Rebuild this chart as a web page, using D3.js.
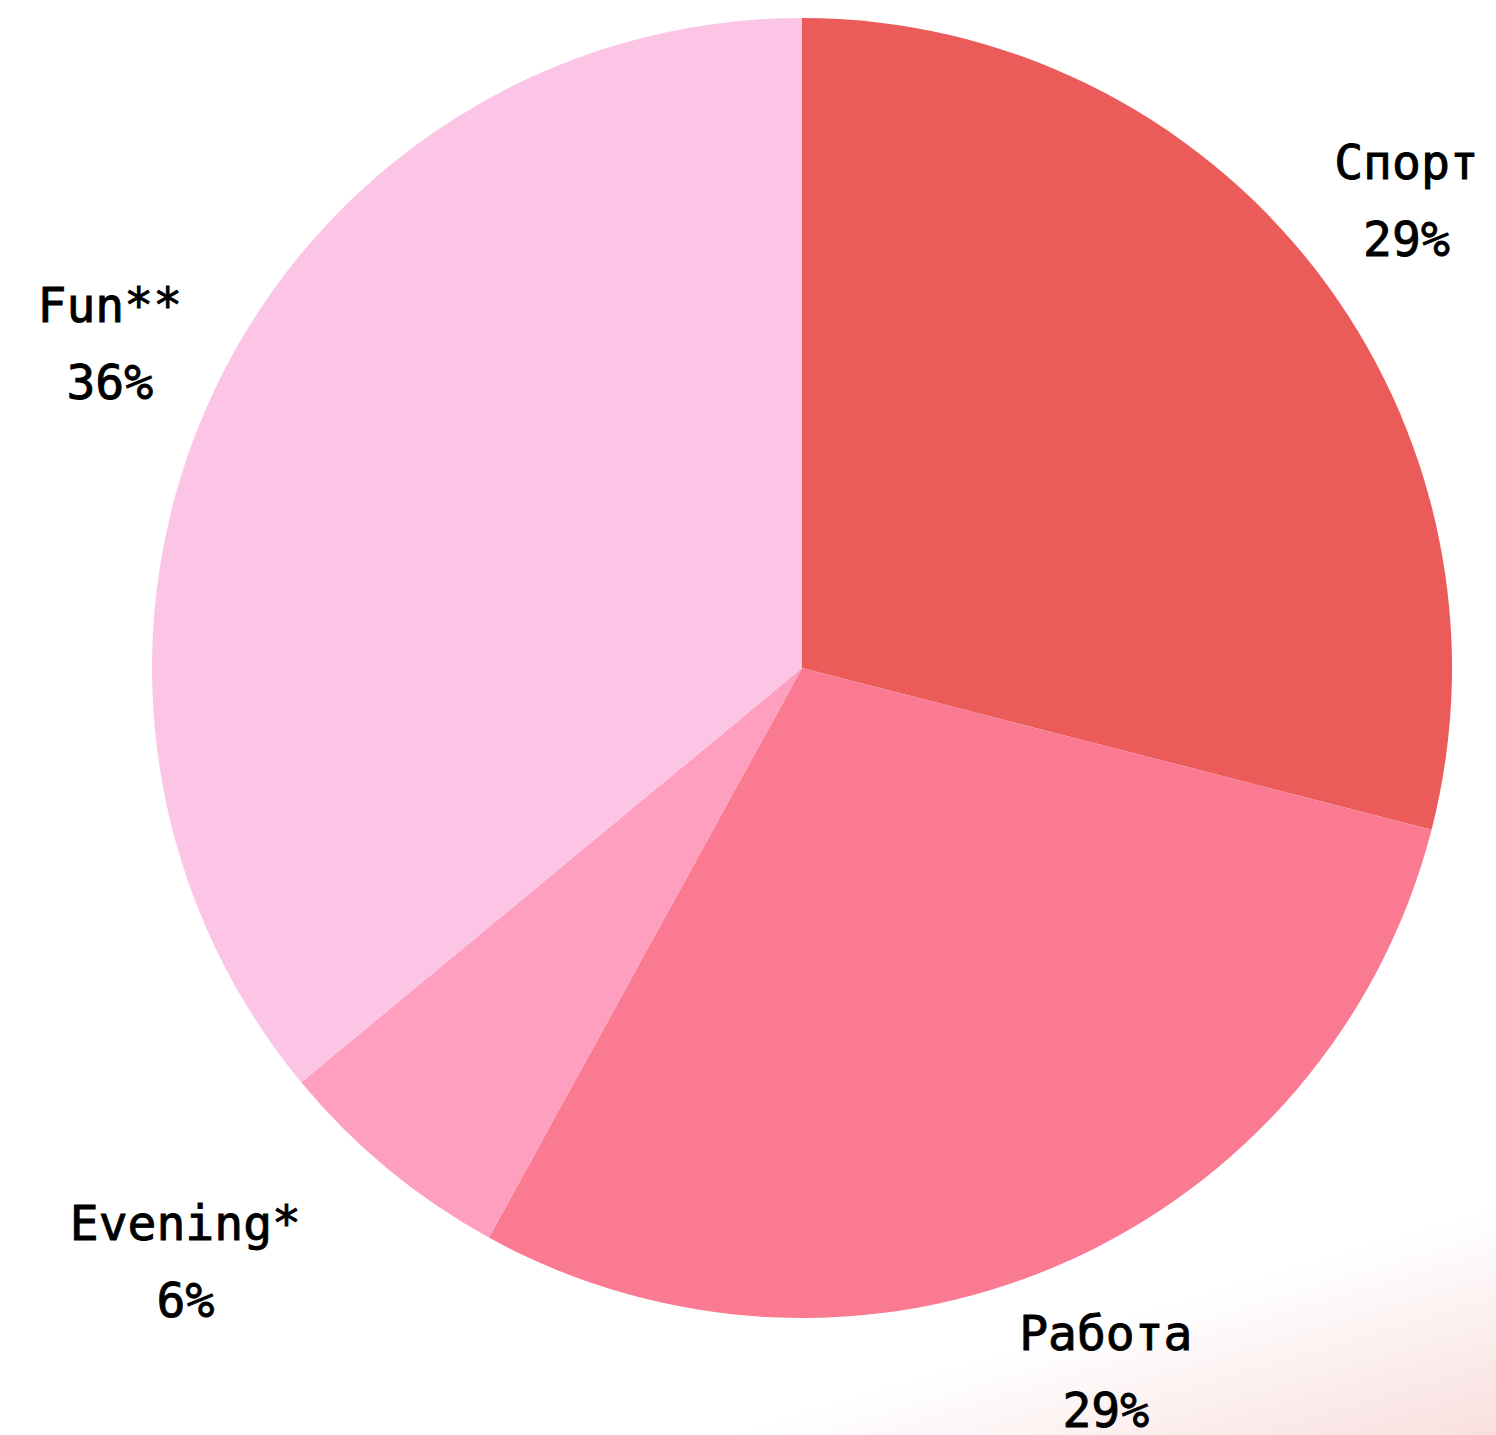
<!DOCTYPE html>
<html>
<head>
<meta charset="utf-8">
<script src="https://cdn.jsdelivr.net/npm/d3@7/dist/d3.min.js"></script>
<style>
  html, body { margin: 0; padding: 0; background: #fff; }
  svg { display: block; }
</style>
</head>
<body>
<div id="chart"></div>
<script>
// slices, clockwise from 12 o'clock
const categories = ['Спорт', 'Работа', 'Evening*', 'Fun**'];
const shares = [29, 29, 6, 36];
const colors = ['#eb5b59', '#f97a91', '#fe9fc0', '#fdc5e5'];

const width = 1496, height = 1435;
const cx = 802, cy = 668, radius = 650, labelRadius = 765;

const svg = d3.select('#chart').append('svg')
  .attr('width', width)
  .attr('height', height);

// soft pink wash in the bottom right corner
const defs = svg.append('defs');
const grad = defs.append('linearGradient')
  .attr('id', 'wash')
  .attr('gradientUnits', 'userSpaceOnUse')
  .attr('x1', 1050).attr('y1', 1300)
  .attr('x2', 1180).attr('y2', 1740);
grad.append('stop').attr('offset', '0%').attr('stop-color', '#ffffff');
grad.append('stop').attr('offset', '8%').attr('stop-color', '#ffffff');
grad.append('stop').attr('offset', '56%').attr('stop-color', '#f9dfdf');
grad.append('stop').attr('offset', '100%').attr('stop-color', '#f6d2d2');

svg.append('rect')
  .attr('width', width).attr('height', height)
  .attr('fill', 'url(#wash)');

const slices = categories.map((c, i) => ({ name: c, value: shares[i], color: colors[i] }));

const pie = d3.pie().value(d => d.value).sort(null);
const arc = d3.arc().innerRadius(0).outerRadius(radius);
const labelArc = d3.arc().innerRadius(labelRadius).outerRadius(labelRadius);

const g = svg.append('g').attr('transform', `translate(${cx},${cy})`);

const arcs = pie(slices);

g.selectAll('path.slice')
  .data(arcs)
  .enter()
  .append('path')
  .attr('class', 'slice')
  .attr('d', arc)
  .attr('fill', d => d.data.color);

// the small slice's label is pushed out to the left so it clears the pie
const nudge = { 'Evening*': [-129, 3] };

const labels = g.selectAll('text.label')
  .data(arcs)
  .enter()
  .append('text')
  .attr('class', 'label')
  .attr('text-anchor', 'middle')
  .style('font-family', '"DejaVu Sans Mono", "Liberation Mono", monospace')
  .style('font-size', '48px')
  .style('fill', '#000')
  .style('stroke', '#000')
  .style('stroke-width', 0.9)
  .attr('transform', d => {
    const [x, y] = labelArc.centroid(d);
    const n = nudge[d.data.name] || [0, 0];
    return `translate(${x + n[0]},${y + n[1]})`;
  });

labels.append('tspan')
  .attr('x', 0)
  .attr('y', -20)
  .text(d => d.data.name);

labels.append('tspan')
  .attr('x', 0)
  .attr('y', 57)
  .text(d => d.data.value + '%');
</script>
</body>
</html>
